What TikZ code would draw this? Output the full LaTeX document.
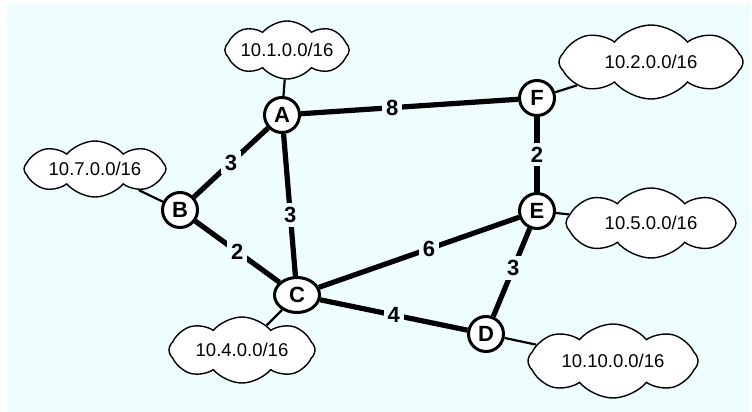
\documentclass[tikz,border=0pt]{standalone}
\usepackage{fontspec}
\setmainfont{Liberation Sans}
\usetikzlibrary{shapes.symbols,shapes.geometric}
\definecolor{bgc}{RGB}{238,254,255}
\begin{document}
\begin{tikzpicture}[x=1pt,y=-1pt,
  router/.style={circle,draw,line width=3pt,fill=white,minimum size=35pt,inner sep=0pt,
    font=\bfseries\fontsize{22}{22}\selectfont},
  link/.style={line width=5.2pt},
  stub/.style={line width=2.2pt},
  net/.style={cloud,cloud puffs=8,cloud puff arc=100,cloud ignores aspect,draw,fill=white,line width=1.4pt,inner sep=0pt,
    font=\fontsize{18.5}{18.5}\selectfont},
  wlabel/.style={fill=bgc,inner sep=4pt,font=\bfseries\fontsize{22}{22}\selectfont}]
\useasboundingbox (0,0) rectangle (752,412);
\fill[white] (0,0) rectangle (752,412);
\fill[bgc] (7,3) rectangle (750,412);
% clouds
\node[net,minimum width=124pt,minimum height=58pt] (n1) at (287,50) {10.1.0.0/16};
\node[net,minimum width=184pt,minimum height=74pt] (n2) at (651,62) {10.2.0.0/16};
\node[net,minimum width=142pt,minimum height=56pt] (n7) at (95,169) {10.7.0.0/16};
\node[net,minimum width=146pt,minimum height=66pt] (n4) at (242,350) {10.4.0.0/16};
\node[net,minimum width=170pt,minimum height=70pt] (n5) at (651,223) {10.5.0.0/16};
\node[net,minimum width=170pt,minimum height=74pt] (n10) at (613,361) {10.10.0.0/16};
% routers
\node[router] (A) at (282,115) {A};
\node[router] (F) at (537,98) {F};
\node[router] (B) at (180,210) {B};
\node[router] (E) at (537,211) {E};
\node[router,ellipse,minimum width=45pt,minimum height=35pt] (C) at (297,295) {C};
\node[router] (D) at (486,334) {D};
% stubs
\draw[stub] (A) -- (n1);
\draw[stub] (F) -- (n2);
\draw[stub] (B) -- (n7);
\draw[stub] (C) -- (n4);
\draw[stub] (E) -- (n5);
\draw[stub] (D) -- (n10);
% links
\draw[link] (A) -- node[wlabel,pos=0.42] {8} (F);
\draw[link] (A) -- node[wlabel] {3} (B);
\draw[link] (A) -- node[wlabel,pos=0.57] {3} (C);
\draw[link] (B) -- node[wlabel] {2} (C);
\draw[link] (C) -- node[wlabel,pos=0.55] {6} (E);
\draw[link] (C) -- node[wlabel] {4} (D);
\draw[link] (F) -- node[wlabel] {2} (E);
\draw[link] (E) -- node[wlabel,pos=0.45] {3} (D);
\end{tikzpicture}
\end{document}
